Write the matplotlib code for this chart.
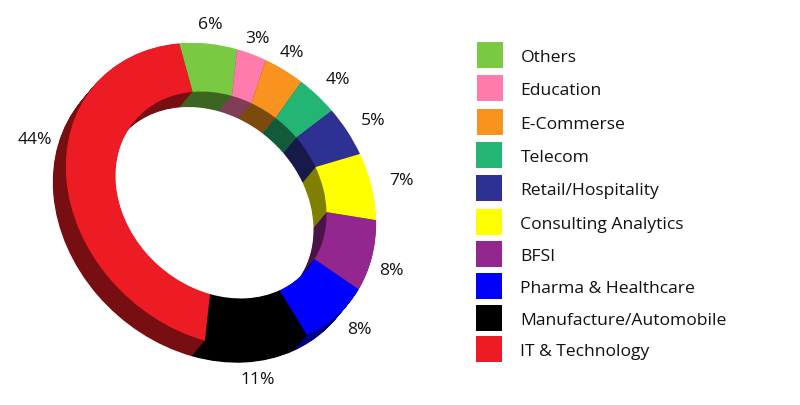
import matplotlib
matplotlib.use("Agg")
import matplotlib.pyplot as plt
from matplotlib.patches import Rectangle
from matplotlib.transforms import Affine2D
from matplotlib.colors import to_rgb

categories = ["Others", "Education", "E-Commerse", "Telecom", "Retail/Hospitality",
              "Consulting Analytics", "BFSI", "Pharma & Healthcare",
              "Manufacture/Automobile", "IT & Technology"]
values = [6, 3, 4, 4, 5, 7, 8, 8, 11, 44]
colors = ["#7ac943", "#ff7bac", "#f7931e", "#22b573", "#2e3192",
          "#ffff00", "#93278f", "#0000ff", "#000000", "#ed1c24"]

# layout (pixels, y down)
label_xy = [(210, 25), (257, 39), (292, 53), (338, 80), (373, 121),
            (401, 181), (391, 271), (359, 330), (258, 380), (35, 140)]
legend_top = [43, 76, 110, 143, 176, 210, 242, 274, 306, 337]
legend_left = [477, 477, 477, 476, 476, 476, 476, 476, 476, 476]

FONT = "Open Sans"
fig = plt.figure(figsize=(8, 4.06), dpi=100)
ax = fig.add_axes([0, 0, 1, 1])

center = (221, 196)
semi_major, semi_minor, tilt = 167.5, 138.5, 42
depth = (-13, 15.5)
layers = 28


def draw_ring(cols, dx, dy):
    wedges, _ = ax.pie(values, colors=cols, startangle=-142.3, counterclock=True,
                       radius=1, wedgeprops=dict(width=0.32, linewidth=0))
    tr = (Affine2D().scale(semi_major, semi_minor).rotate_deg(tilt)
          .translate(center[0] + dx, center[1] + dy))
    for w in wedges:
        w.set_transform(tr + ax.transData)


dark = [tuple(c * 0.5 for c in to_rgb(col)) for col in colors]
for i in range(layers, 0, -1):
    f = i / layers
    draw_ring(dark, depth[0] * f, depth[1] * f)
draw_ring(colors, 0, 0)

ax.set_aspect("auto")
ax.set_xlim(0, 800)
ax.set_ylim(406, 0)
ax.axis("off")

for (x, y), v in zip(label_xy, values):
    ax.text(x, y, f"{v}%", ha="center", va="center", fontsize=12.6, family=FONT, color="#111111")

for top, left, col, name in zip(legend_top, legend_left, colors, categories):
    ax.add_patch(Rectangle((left, top), 26, 26, facecolor=col, edgecolor="none"))
    ax.text(520.5, top + 15, name, ha="left", va="center", fontsize=12.6, family=FONT, color="#111111")

fig.savefig("out.png", dpi=100, facecolor="white")
